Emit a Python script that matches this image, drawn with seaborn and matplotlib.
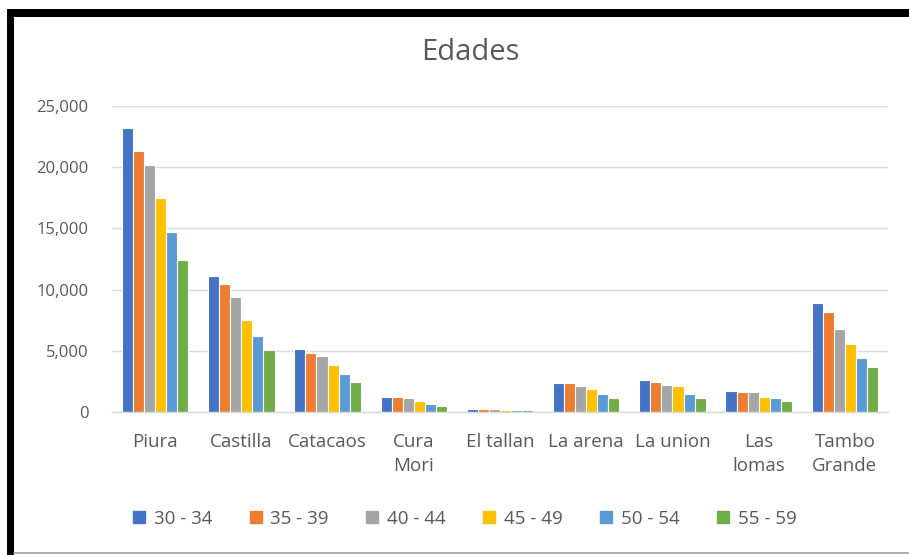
import matplotlib
matplotlib.use("Agg")
import matplotlib.pyplot as plt
from matplotlib.patches import Rectangle
from matplotlib.lines import Line2D
import seaborn as sns
import pandas as pd

districts = ["Piura", "Castilla", "Catacaos", "Cura\nMori", "El tallan",
             "La arena", "La union", "Las\nlomas", "Tambo\nGrande"]
age_groups = ["30 - 34", "35 - 39", "40 - 44", "45 - 49", "50 - 54", "55 - 59"]
v_30_34 = [23150, 11110, 5170, 1250, 270, 2390, 2630, 1740, 8880]
v_35_39 = [21300, 10480, 4800, 1250, 270, 2390, 2500, 1630, 8150]
v_40_44 = [20200, 9370, 4560, 1140, 270, 2140, 2250, 1630, 6760]
v_45_49 = [17490, 7520, 3830, 900, 160, 1870, 2140, 1250, 5570]
v_50_54 = [14670, 6190, 3100, 650, 190, 1520, 1520, 1140, 4450]
v_55_59 = [12440, 5080, 2470, 490, 160, 1140, 1140, 900, 3720]
yticks = [0, 5000, 10000, 15000, 20000, 25000]
colors = ["#4472C4", "#ED7D31", "#A5A5A5", "#FFC000", "#5B9BD5", "#70AD47"]

series = [v_30_34, v_35_39, v_40_44, v_45_49, v_50_54, v_55_59]
rows = []
for g, vals in zip(age_groups, series):
    for d, v in zip(districts, vals):
        rows.append({"Distrito": d, "Edad": g, "Valor": v})
df = pd.DataFrame(rows)

sns.set_style("white")
plt.rcParams["font.family"] = ["Open Sans", "DejaVu Sans"]
txt = "#595959"

fig = plt.figure(figsize=(9.09, 5.55), dpi=100)
ax = fig.add_axes([112 / 909, 1 - 412.3 / 555, 776 / 909, 306.6 / 555])
sns.barplot(data=df, x="Distrito", y="Valor", hue="Edad", order=districts,
            hue_order=age_groups, palette=colors, width=0.77,
            edgecolor="white", linewidth=0.8, saturation=1, ax=ax, legend=False)

ax.set_ylim(0, 25000)
ax.set_xlim(-0.5, len(districts) - 0.5)
ax.set_yticks(yticks)
ax.set_yticklabels([f"{t:,}" for t in yticks])
ax.yaxis.grid(True, color="#D9D9D9", linewidth=1)
ax.set_axisbelow(True)
for s in ["top", "right", "left"]:
    ax.spines[s].set_visible(False)
ax.spines["bottom"].set_color("#D9D9D9")
ax.spines["bottom"].set_linewidth(1)
ax.tick_params(axis="both", length=0, colors=txt)
ax.tick_params(axis="y", pad=17, labelsize=12)
ax.tick_params(axis="x", pad=15, labelsize=13.5)
for lab in ax.get_xticklabels():
    lab.set_linespacing(1.45)
ax.set_xlabel("")
ax.set_ylabel("")

fig.text(470 / 909, 1 - 53 / 555, "Edades", ha="center", va="center",
         fontsize=21, color=txt)

handles = [Line2D([0], [0], marker="s", linestyle="", markersize=9,
                  markerfacecolor=c, markeredgecolor=c) for c in colors]
fig.legend(handles, age_groups, loc="center", ncol=6,
           bbox_to_anchor=(463 / 909, 1 - 519 / 555), frameon=False,
           fontsize=13.5, labelcolor=txt, handletextpad=0.3,
           columnspacing=1.8, handlelength=1.0)

# chart frame
W, H = 909, 555
fig.add_artist(Rectangle((7 / W, 1 - 17 / H), (W - 7) / W, 8 / H,
                         transform=fig.transFigure, color="black", lw=0))
fig.add_artist(Rectangle((7 / W, 0), 7 / W, 1 - 9 / H,
                         transform=fig.transFigure, color="black", lw=0))
fig.add_artist(Line2D([14 / W, 1], [1 - 553 / H, 1 - 553 / H],
                      transform=fig.transFigure, color="#A0A0A0", lw=1.2))

fig.savefig("out.png", dpi=100)
